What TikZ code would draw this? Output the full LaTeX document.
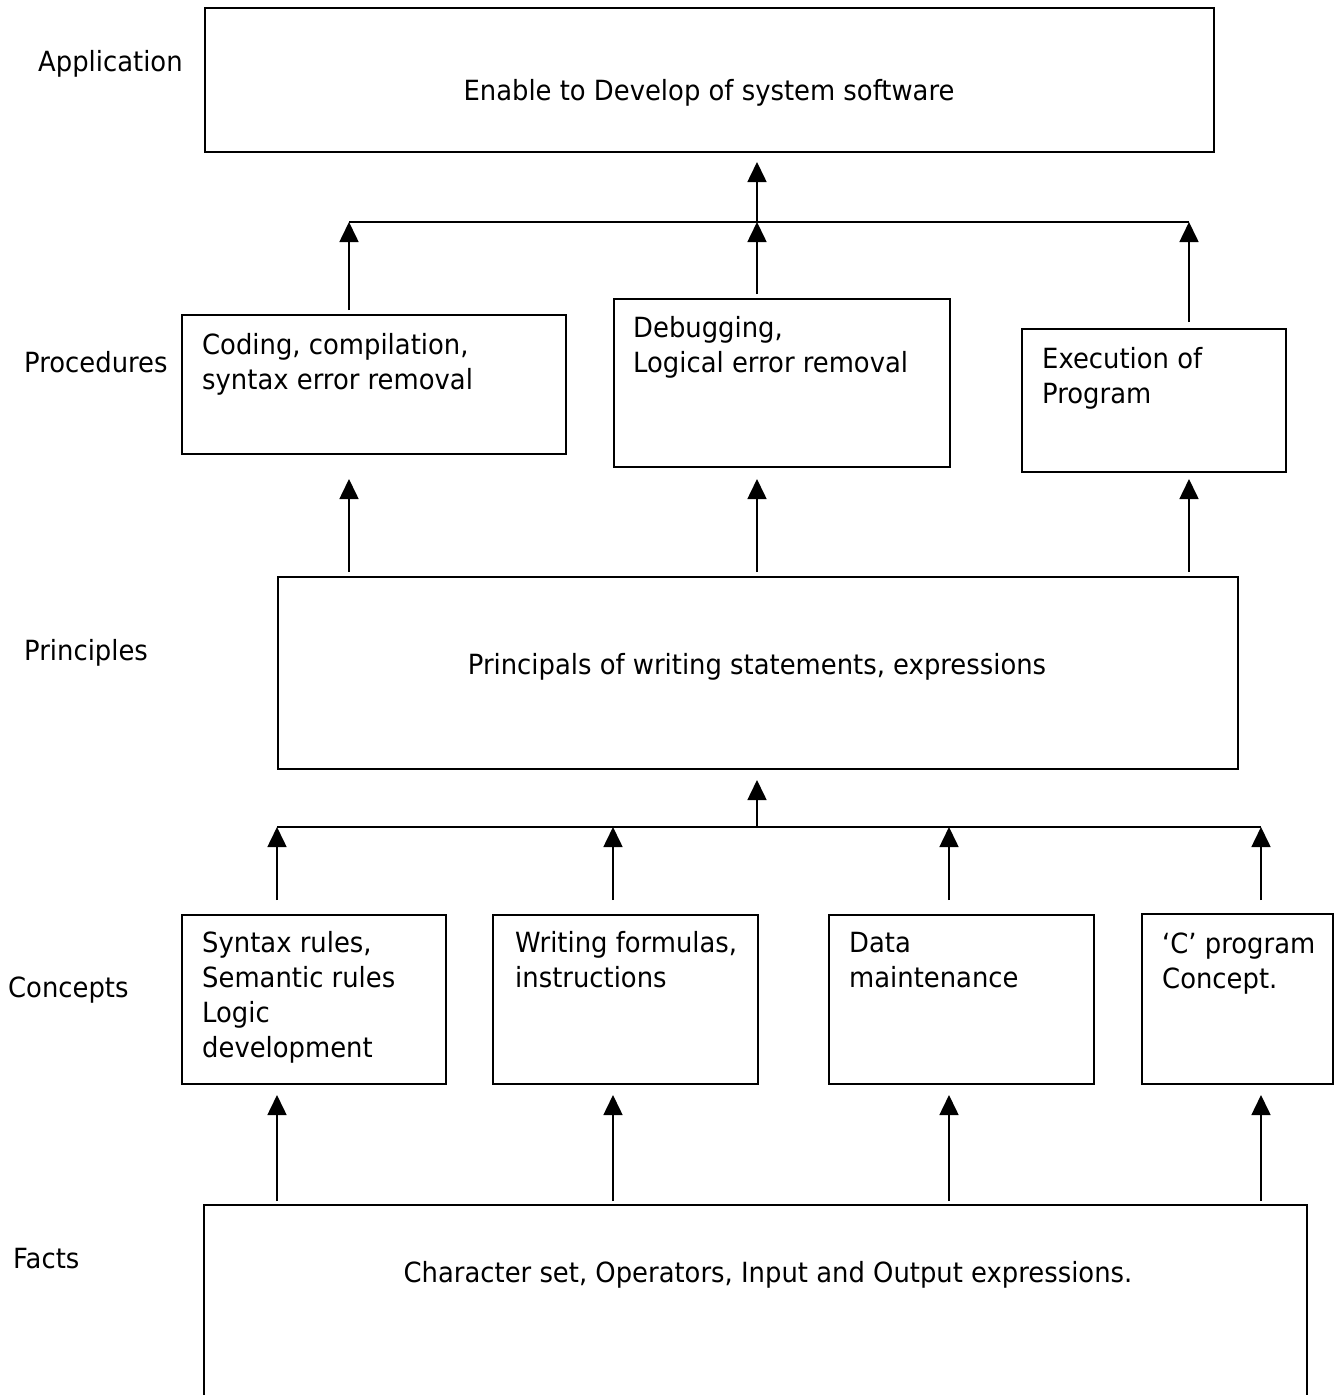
\documentclass[tikz,border=0pt]{standalone}
\usepackage{fontspec}
\setmainfont{DejaVu Sans}[FakeStretch=0.93]
\usetikzlibrary{arrows.meta,calc}
\begin{document}
\begin{tikzpicture}[x=1pt,y=-1pt,
  box/.style={draw=black,line width=2pt,inner sep=0pt,anchor=north west},
  openbox/.style={inner sep=0pt,anchor=north west},
  txt/.style={inner sep=0pt,font=\fontsize{27.8}{35}\selectfont},
  blk/.style={txt,anchor=north west,align=left},
  conn/.style={line width=1.6pt},
  arr/.style={line width=1.6pt,-{Triangle[width=19pt,length=20pt]}}]
\useasboundingbox (0,0) rectangle (1335,1395);
\fill[white] (0,0) rectangle (1335,1395);

% level labels
\node[txt,anchor=base west] (lapp) at (38,71) {Application};
\node[txt,anchor=base west] (lproc) at (24,372) {Procedures};
\node[txt,anchor=base west] (lprin) at (24,660) {Principles};
\node[txt,anchor=base west] (lconc) at (8,997) {Concepts};
\node[txt,anchor=base west] (lfact) at (13,1268) {Facts};

% boxes
\node[box,minimum width=1009pt,minimum height=144pt] (app) at (204,7) {};
\node[txt,anchor=base] (tapp) at (709,100) {Enable to Develop of system software};

\node[box,minimum width=384pt,minimum height=139pt] (p1) at (181,314) {};
\node[box,minimum width=336pt,minimum height=168pt] (p2) at (613,298) {};
\node[box,minimum width=264pt,minimum height=143pt] (p3) at (1021,328) {};
\node[blk] (tp1) at (202,332) {\rule{0pt}{22pt}Coding, compilation,\\syntax error removal};
\node[blk] (tp2) at (633,315) {\rule{0pt}{22pt}Debugging,\\Logical error removal};
\node[blk] (tp3) at (1042,346) {\rule{0pt}{22pt}Execution of\\Program};

\node[box,minimum width=960pt,minimum height=192pt] (pr) at (277,576) {};
\node[txt,anchor=base] (tpr) at (757,674) {Principals of writing statements, expressions};

\node[box,minimum width=264pt,minimum height=169pt] (cA) at (181,914) {};
\node[box,minimum width=265pt,minimum height=169pt] (cB) at (492,914) {};
\node[box,minimum width=265pt,minimum height=169pt] (cC) at (828,914) {};
\node[box,minimum width=191pt,minimum height=170pt] (cD) at (1141,913) {};
\node[blk] (tcA) at (202,930) {\rule{0pt}{22pt}Syntax rules,\\Semantic rules\\Logic\\development};
\node[blk] (tcB) at (515,930) {\rule{0pt}{22pt}Writing formulas,\\instructions};
\node[blk] (tcC) at (849,930) {\rule{0pt}{22pt}Data\\maintenance};
\node[blk] (tcD) at (1162,931) {\rule{0pt}{22pt}`C' program\\Concept.};

\node[openbox,minimum width=1103pt,minimum height=195pt] (facts) at (204,1205) {};
\draw[line width=2pt] (facts.south west) -- (facts.north west) -- (facts.north east) -- (facts.south east);
\node[txt,anchor=base] (tfacts) at (768,1282) {Character set, Operators, Input and Output expressions.};

% junction coordinates
\coordinate (k1) at (349,222);
\coordinate (k2) at (757,222);
\coordinate (k3) at (1189,222);
\coordinate (m1) at (277,827);
\coordinate (m2) at (613,827);
\coordinate (m3) at (949,827);
\coordinate (m4) at (1261,827);
\coordinate (mc) at (757,827);

% upper bar
\draw[conn] (k1) -- (k3);
\draw[arr] (k2) -- ($(k2 |- app.south)+(0,9)$);
\draw[arr] ($(k1 |- p1.north)+(0,-4)$) -- (k1);
\draw[arr] ($(k2 |- p2.north)+(0,-4)$) -- (k2);
\draw[arr] ($(k3 |- p3.north)+(0,-6)$) -- (k3);

% principles to procedures
\draw[arr] ($(k1 |- pr.north)+(0,-4)$) -- ($(k1 |- p1.south)+(0,24)$);
\draw[arr] ($(k2 |- pr.north)+(0,-4)$) -- ($(k2 |- p2.south)+(0,11)$);
\draw[arr] ($(k3 |- pr.north)+(0,-4)$) -- ($(k3 |- p3.south)+(0,6)$);

% lower bar
\draw[conn] (m1) -- (m4);
\draw[arr] (mc) -- ($(mc |- pr.south)+(0,10)$);
\draw[arr] ($(m1 |- cA.north)+(0,-14)$) -- (m1);
\draw[arr] ($(m2 |- cB.north)+(0,-14)$) -- (m2);
\draw[arr] ($(m3 |- cC.north)+(0,-14)$) -- (m3);
\draw[arr] ($(m4 |- cD.north)+(0,-13)$) -- (m4);

% facts to concepts
\draw[arr] ($(m1 |- facts.north)+(0,-4)$) -- ($(m1 |- cA.south)+(0,10)$);
\draw[arr] ($(m2 |- facts.north)+(0,-4)$) -- ($(m2 |- cB.south)+(0,10)$);
\draw[arr] ($(m3 |- facts.north)+(0,-4)$) -- ($(m3 |- cC.south)+(0,10)$);
\draw[arr] ($(m4 |- facts.north)+(0,-4)$) -- ($(m4 |- cD.south)+(0,10)$);
\end{tikzpicture}
\end{document}
